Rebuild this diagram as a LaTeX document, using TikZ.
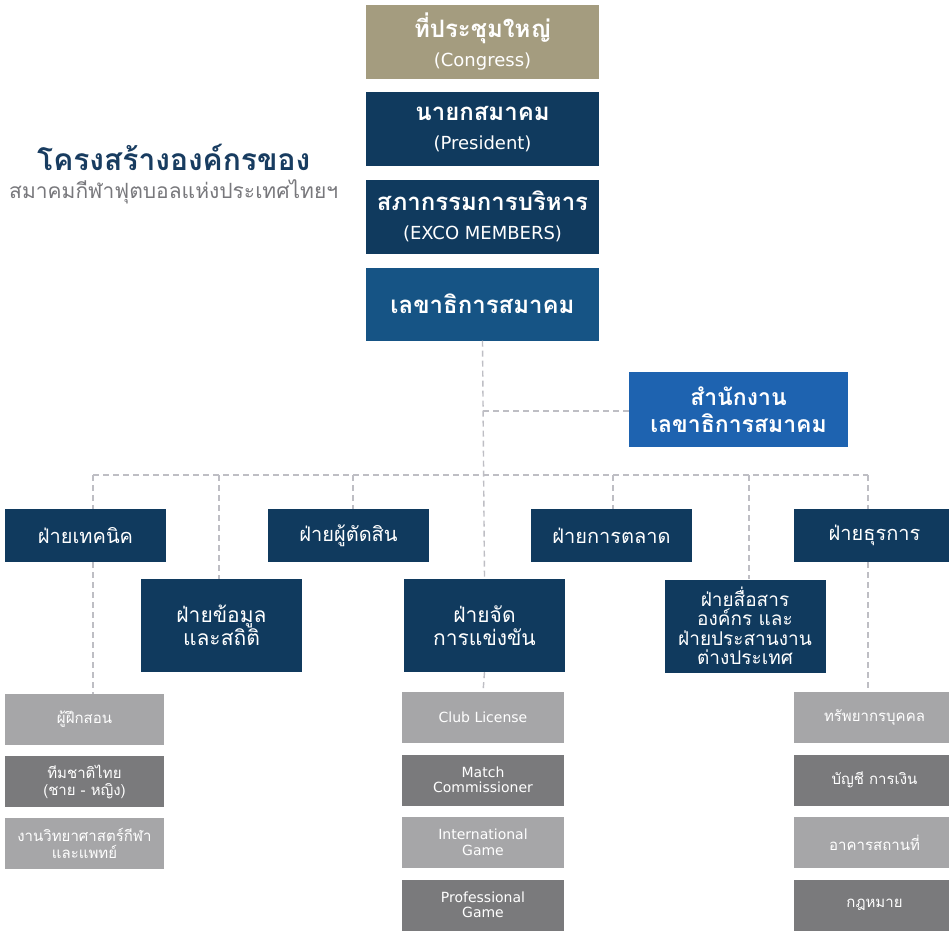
\documentclass[tikz,border=0pt]{standalone}
\usepackage{fontspec}
\newfontfamily\thai[Script=Thai]{Loma}
\newfontfamily\latin{DejaVu Sans}
\definecolor{tan}{RGB}{164,156,127}
\definecolor{navy}{RGB}{16,58,94}
\definecolor{secblue}{RGB}{22,84,133}
\definecolor{offblue}{RGB}{30,99,176}
\definecolor{lgray}{RGB}{166,166,168}
\definecolor{dgray}{RGB}{122,122,124}
\definecolor{linegray}{RGB}{190,190,196}
\definecolor{titleblue}{RGB}{24,60,96}
\definecolor{subgray}{RGB}{120,120,124}
\tikzset{
  box/.style={rectangle, inner sep=0pt, text=white, align=center, font=\thai},
  topbox/.style={box, minimum width=233pt, minimum height=74pt, font=\thai\bfseries\fontsize{24}{29}\selectfont},
  lvlone/.style={box, fill=navy, minimum width=161pt, minimum height=53pt, font=\thai\fontsize{20}{24}\selectfont},
  lvltwo/.style={box, fill=navy, minimum width=161pt, minimum height=93pt, font=\thai\fontsize{21}{23}\selectfont},
  subbox/.style={box, minimum height=51pt, font=\thai\fontsize{15}{17}\selectfont},
  engsub/.style={subbox, font=\latin\fontsize{14}{15.5}\selectfont},
  conn/.style={draw=linegray, line width=1.4pt, dash pattern=on 6pt off 4pt},
}
\newcommand{\englabel}[1]{{\latin\mdseries\fontsize{18}{20}\selectfont #1}}
\begin{document}
\begin{tikzpicture}[x=1pt,y=-1pt]
\useasboundingbox (0,0) rectangle (949,932);
\fill[white] (0,0) rectangle (949,932);
\coordinate (hleft) at (93,475);
\coordinate (hright) at (868,475);
\coordinate (v2) at (219,475);
\coordinate (v3) at (353,475);
\coordinate (v5) at (613,475);
\coordinate (v6) at (749,475);
\coordinate (v7) at (868,475);
\coordinate (oj) at (483,411);

% top boxes
\node[topbox, fill=tan] (congress) at (482.5,42) {ที่ประชุมใหญ่\\\englabel{(Congress)}};
\node[topbox, fill=navy] (pres) at (482.5,129) {นายกสมาคม\\\englabel{(President)}};
\node[topbox, fill=navy] (exco) at (482.5,216.5) {สภากรรมการบริหาร\\\englabel{(EXCO MEMBERS)}};
\node[topbox, fill=secblue, minimum height=73pt] (sec) at (482.5,304) {เลขาธิการสมาคม};

% office
\node[box, fill=offblue, minimum width=219pt, minimum height=75pt, font=\thai\bfseries\fontsize{23}{27}\selectfont] (office) at (738.5,409.5) {สำนักงาน\\เลขาธิการสมาคม};

% title
\node[anchor=west, inner sep=0pt, text=titleblue, font=\thai\bfseries\fontsize{30}{34}\selectfont] (title) at (37,157) {โครงสร้างองค์กรของ};
\node[anchor=west, inner sep=0pt, text=subgray, font=\thai\fontsize{21}{24}\selectfont] (subtitle) at (9,192) {สมาคมกีฬาฟุตบอลแห่งประเทศไทยฯ};

% level 1
\node[lvlone] (tech) at (85.5,535.5) {ฝ่ายเทคนิค};
\node[lvlone] (ref) at (348.5,535.5) {ฝ่ายผู้ตัดสิน};
\node[lvlone] (mkt) at (611.5,535.5) {ฝ่ายการตลาด};
\node[lvlone] (admin) at (874.5,535.5) {ฝ่ายธุรการ};

% level 2
\node[lvltwo] (data) at (221.5,625.5) {ฝ่ายข้อมูล\\และสถิติ};
\node[lvltwo] (comp) at (484.5,625.5) {ฝ่ายจัด\\การแข่งขัน};
\node[lvltwo, font=\thai\fontsize{19}{19.5}\selectfont] (comm) at (745,626) {ฝ่ายสื่อสาร\\องค์กร และ\\ฝ่ายประสานงาน\\ต่างประเทศ};

% sub col 1
\node[subbox, fill=lgray, minimum width=159pt] (coach) at (84.5,719.5) {ผู้ฝึกสอน};
\node[subbox, fill=dgray, minimum width=159pt] (natteam) at (84.5,781.5) {ทีมชาติไทย\\(ชาย - หญิง)};
\node[subbox, fill=lgray, minimum width=159pt] (sci) at (84.5,843.5) {งานวิทยาศาสตร์กีฬา\\และแพทย์};

% sub col 2
\node[engsub, fill=lgray, minimum width=162pt] (club) at (483,717.5) {Club License};
\node[engsub, fill=dgray, minimum width=162pt] (match) at (483,780) {Match\\Commissioner};
\node[engsub, fill=lgray, minimum width=162pt] (intl) at (483,842.5) {International\\Game};
\node[engsub, fill=dgray, minimum width=162pt] (prof) at (483,905) {Professional\\Game};

% sub col 3
\node[subbox, fill=lgray, minimum width=161pt] (hrbox) at (874.5,717.5) {ทรัพยากรบุคคล};
\node[subbox, fill=dgray, minimum width=161pt] (acc) at (874.5,780) {บัญชี การเงิน};
\node[subbox, fill=lgray, minimum width=161pt] (bld) at (874.5,842.5) {อาคารสถานที่};
\node[subbox, fill=dgray, minimum width=161pt] (law) at (874.5,905) {กฎหมาย};

% connectors
\draw[conn] (sec.south) -- (comp.north);
\draw[conn] (oj) -- (oj -| office.west);
\draw[conn] (hleft) -- (hright);
\draw[conn] (hleft) -- (hleft |- tech.north);
\draw[conn] (v2) -- (v2 |- data.north);
\draw[conn] (v3) -- (v3 |- ref.north);
\draw[conn] (v5) -- (v5 |- mkt.north);
\draw[conn] (v6) -- (v6 |- comm.north);
\draw[conn] (v7) -- (v7 |- admin.north);
\draw[conn] (hleft |- tech.south) -- (hleft |- coach.north);
\draw[conn] (comp.south) -- (club.north);
\draw[conn] (v7 |- admin.south) -- (v7 |- hrbox.north);
\end{tikzpicture}
\end{document}
